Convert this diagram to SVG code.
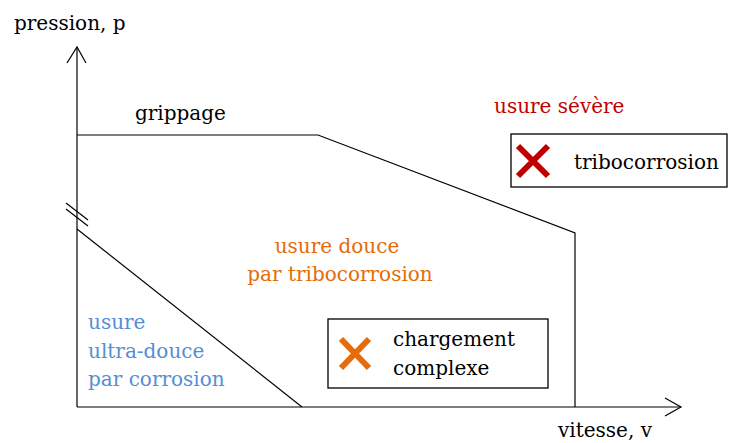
<svg xmlns="http://www.w3.org/2000/svg" width="729" height="443" viewBox="0 0 729 443">
<style>
text{font-family:"DejaVu Serif","Liberation Serif",serif;font-size:20px;fill:#000}
.ln{fill:none;stroke:#000;stroke-width:1.2}
.red{fill:#C00000}
.org{fill:#E46C0A}
.blu{fill:#558ED5}
.box{fill:#fff;stroke:#000;stroke-width:1.3}
</style>
<rect width="729" height="443" fill="#fff"/>
<g id="connectors">
<polyline class="ln" points="77,407 77,47"/>
<polyline class="ln" points="67,63 77,47 86,63"/>
<polyline class="ln" points="77,407 681,407"/>
<polyline class="ln" points="665,398 681,407 665,416"/>
<polyline class="ln" points="77,135 318,135 575,233 575,407"/>
<line class="ln" x1="66" y1="203" x2="88" y2="220"/>
<line class="ln" x1="66" y1="209" x2="88" y2="226"/>
<line class="ln" x1="77" y1="229" x2="302" y2="407"/>
</g>
<g id="labels">
<text x="14" y="30">pression, p</text>
<text x="558" y="437">vitesse, v</text>
<text x="135" y="120">grippage</text>
<text class="red" x="494" y="113">usure sévère</text>
<text class="org" x="337" y="253" text-anchor="middle">usure douce</text>
<text class="org" x="340" y="281" text-anchor="middle">par tribocorrosion</text>
<text class="blu" x="88" y="329">usure</text>
<text class="blu" x="88" y="358">ultra-douce</text>
<text class="blu" x="88" y="386">par corrosion</text>
</g>
<g id="node-tribocorrosion">
<rect class="box" x="511" y="134" width="216" height="53"/>
<path d="M518,146 L548,176 M548,146 L518,176" stroke="#C00000" stroke-width="6"/>
<text x="574" y="169">tribocorrosion</text>
</g>
<g id="node-chargement">
<rect class="box" x="328" y="319" width="220" height="69"/>
<path d="M341,339 L369,368 M369,339 L341,368" stroke="#E46C0A" stroke-width="6"/>
<text x="393" y="346">chargement</text>
<text x="393" y="375">complexe</text>
</g>
</svg>
